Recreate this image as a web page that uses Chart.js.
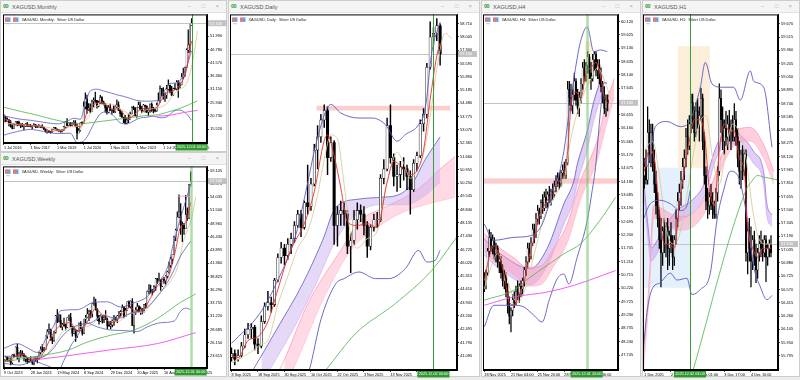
<!DOCTYPE html>
<html><head><meta charset="utf-8">
<script src="https://cdn.jsdelivr.net/npm/chart.js@4.4.1/dist/chart.umd.min.js"></script>
<style>
html,body{margin:0;padding:0}
body{width:800px;height:380px;background:#ececec;position:relative;overflow:hidden;font-family:'Liberation Sans',Arial,sans-serif}
.win{position:absolute;background:#fff;border:1px solid #cdcdcd;box-sizing:border-box}
.tb{position:absolute;left:0;top:0;right:0;height:11px;background:#f4f4f4;border-bottom:1px solid #e2e2e2}
.ic{position:absolute;left:2px;top:2px;font-size:5.5px;font-weight:bold;color:#2a9a2a;letter-spacing:-0.5px}
.tt{position:absolute;left:11px;top:2.6px;font-size:5.6px;color:#555;white-space:nowrap}
.bt{position:absolute;top:1.8px;font-size:6px;color:#b0b0b0}
canvas{position:absolute}
</style></head><body>
<div class="win" style="left:0;top:0;width:227px;height:152px"><div class="tb"><span class="ic">00</span><span class="tt">XAGUSD,Monthly</span><span class="bt" style="right:35px">–</span><span class="bt" style="right:21px">□</span><span class="bt" style="right:7px">×</span></div></div>
<div class="win" style="left:0;top:152px;width:227px;height:225px"><div class="tb"><span class="ic">00</span><span class="tt">XAGUSD,Weekly</span><span class="bt" style="right:35px">–</span><span class="bt" style="right:21px">□</span><span class="bt" style="right:7px">×</span></div></div>
<div class="win" style="left:228px;top:0;width:252px;height:377px"><div class="tb"><span class="ic">00</span><span class="tt">XAGUSD,Daily</span><span class="bt" style="right:35px">–</span><span class="bt" style="right:21px">□</span><span class="bt" style="right:7px">×</span></div></div>
<div class="win" style="left:481px;top:0;width:160px;height:377px"><div class="tb"><span class="ic">00</span><span class="tt">XAGUSD,H4</span><span class="bt" style="right:35px">–</span><span class="bt" style="right:21px">□</span><span class="bt" style="right:7px">×</span></div></div>
<div class="win" style="left:642px;top:0;width:158px;height:377px"><div class="tb"><span class="ic">00</span><span class="tt">XAGUSD,H1</span><span class="bt" style="right:35px">–</span><span class="bt" style="right:21px">□</span><span class="bt" style="right:7px">×</span></div></div>
<script>
// ================= MONTHLY (Jul 2016 .. Dec 2025) =================
const monthlyOpen=[18.6,20.1,18.7,19.2,17.7,16.5,
15.9,17.5,18.3,18.2,17.2,17.3,16.6,16.7,17.6,16.7,16.7,16.5,
16.9,17.2,16.5,16.3,16.3,16.4,16.3,15.5,14.5,14.6,14.3,14.2,
15.5,16.1,15.6,15.1,15.0,14.6,15.3,16.4,18.4,17.0,18.0,16.9,
17.9,18.0,16.7,14.0,15.0,18.0,17.8,24.4,27.4,23.3,23.8,22.6,
26.4,26.9,26.7,24.5,25.9,27.9,26.1,25.5,24.0,22.2,24.0,22.9,
23.3,22.4,24.3,25.1,23.0,21.7,20.3,20.3,17.8,19.0,19.2,21.5,
24.0,23.9,20.9,24.1,25.0,23.5,22.8,24.9,24.5,22.3,22.9,25.3,
23.8,23.0,22.7,25.0,26.6,31.4,29.1,28.6,28.9,31.2,32.7,30.3,
28.9,31.3,31.2,34.1,32.6,33.0,36.1,36.7,39.7,46.6,48.7,56.4];
const monthlyHigh=[21.1,20.6,20.0,19.3,18.9,17.3,
17.6,18.5,18.5,18.7,17.6,17.8,16.9,17.7,18.2,17.4,17.4,17.0,
17.7,17.4,16.8,17.3,16.7,17.3,16.3,15.6,14.9,14.9,14.7,15.6,
16.2,16.2,15.6,15.3,15.0,15.4,16.6,18.6,19.7,18.1,18.1,18.1,
18.9,18.9,17.5,15.7,18.0,18.4,26.2,29.8,28.9,25.6,25.5,26.9,
27.8,30.1,26.8,26.5,28.8,28.3,26.5,25.6,24.9,24.8,25.4,23.4,
24.7,25.0,27.0,26.2,23.1,22.5,20.3,20.9,19.9,21.2,22.2,24.3,
24.6,24.0,24.1,26.1,26.1,24.5,25.3,25.0,24.8,23.7,25.5,25.9,
24.1,23.5,25.8,29.8,32.5,31.5,31.8,29.9,32.7,34.9,32.9,32.3,
31.6,33.4,34.6,34.6,33.7,37.3,39.5,39.9,47.0,54.5,56.5,58.9];
const monthlyLow=[18.6,18.6,18.7,16.8,16.3,15.6,
15.8,17.2,16.8,17.0,16.1,16.4,15.2,16.6,16.6,16.5,16.4,15.6,
16.8,16.1,16.2,16.3,16.1,16.0,15.3,14.3,13.9,14.1,13.9,14.2,
15.3,15.6,14.8,14.6,14.3,14.3,14.9,16.2,16.9,17.0,16.6,16.7,
17.5,16.4,11.6,14.0,14.7,17.3,17.8,23.5,21.7,22.9,21.9,22.5,
24.2,26.0,23.8,24.2,25.6,25.4,25.0,22.2,21.4,21.9,22.9,21.4,
22.0,22.0,24.0,22.8,20.5,20.1,18.1,17.6,17.6,18.1,19.2,21.5,
23.2,20.7,19.9,24.1,23.2,22.1,22.5,22.2,22.0,20.7,22.1,22.5,
21.9,22.3,22.5,25.0,26.0,28.6,27.3,26.4,27.6,30.8,29.7,28.8,
28.8,31.0,30.9,28.0,31.6,32.9,35.3,36.2,39.6,45.5,45.6,56.2];
const monthlyClose=[20.1,18.7,19.2,17.7,16.5,15.9,
17.5,18.3,18.2,17.2,17.3,16.6,16.7,17.6,16.7,16.7,16.5,16.9,
17.2,16.5,16.3,16.3,16.4,16.3,15.5,14.5,14.6,14.3,14.2,15.5,
16.1,15.6,15.1,15.0,14.6,15.3,16.4,18.4,17.0,18.0,16.9,17.9,
18.0,16.7,14.0,15.0,18.0,17.8,24.4,27.4,23.3,23.8,22.6,26.4,
26.9,26.7,24.5,25.9,27.9,26.1,25.5,24.0,22.2,24.0,22.9,23.3,
22.4,24.3,25.1,23.0,21.7,20.3,20.3,17.8,19.0,19.2,21.5,24.0,
23.9,20.9,24.1,25.0,23.5,22.8,24.9,24.5,22.3,22.9,25.3,23.8,
23.0,22.7,25.0,26.6,31.4,29.1,28.6,28.9,31.2,32.7,30.3,28.9,
31.3,31.2,34.1,32.6,33.0,36.1,36.7,39.7,46.6,48.7,56.4,57.1];
const monthlyPriceTicks=[15.52,20.73,25.94,31.15,36.36,41.57,46.78,51.99,57.20];
const monthlyDateTicks=[0,16,32,48,64,80,96,112];
const monthlyDateLabels=['1 Jul 2016','1 Nov 2017','1 Mar 2019','1 Jul 2020','1 Nov 2021','1 Mar 2023','1 Jul 2024','1 Nov 2025'];
const monthlyBandUp=[[0,20.8],[8,19.6],[16,19.0],[24,18.2],[32,17.6],[38,18.6],[42,19.8],[46,19.4],[49,25.5],[52,30.5],[56,31.2],[60,30.5],[64,29.8],[68,29.0],[72,28.4],[76,27.6],[80,26.8],[86,26.5],[90,26.6],[94,27.4],[97,31.0],[100,33.5],[104,33.6],[107,35.5],[110,40.0],[113,46.3]];
const monthlyBandLow=[[0,13.2],[8,14.6],[16,15.4],[24,14.6],[32,13.8],[40,13.9],[44,10.3],[47,10.5],[50,12.5],[54,17.5],[58,21.5],[62,22.3],[66,20.8],[70,18.0],[74,17.6],[78,18.7],[82,19.9],[86,20.2],[90,20.6],[94,20.0],[98,20.3],[102,22.5],[106,23.0],[110,21.5],[113,19.0]];
const monthlyMaFast=[[0,19.6],[2,19.2],[4,18.4],[6,17.4],[8,17.5],[11,17.5],[14,17.0],[17,16.8],[20,16.9],[24,16.2],[27,15.0],[29,14.6],[32,15.2],[35,15.1],[38,16.3],[41,17.6],[44,16.8],[46,16.4],[48,18.2],[50,22.2],[53,24.7],[56,25.7],[59,26.2],[62,24.7],[65,23.3],[68,23.5],[71,22.5],[74,19.8],[77,20.3],[80,22.3],[83,23.3],[86,23.8],[89,23.7],[92,24.0],[95,27.2],[98,29.8],[101,30.4],[104,31.5],[107,33.9],[110,39.0],[112,47.0],[113,50.0]];
const monthlyMaSlow=[[0,18.2],[6,17.4],[12,17.2],[20,16.8],[28,16.0],[34,14.9],[40,16.5],[46,16.8],[50,19.5],[54,23.5],[58,25.2],[64,25.4],[70,23.6],[76,21.2],[80,20.3],[86,23.2],[92,23.8],[98,25.5],[102,29.0],[106,31.2],[110,33.5],[113,40.0],[115,47.0],[116.5,54.0]];
const monthlyMaLong=[[0,24.1],[10,22.5],[20,21.0],[30,19.3],[40,18.0],[46,17.7],[55,18.3],[64,19.0],[75,20.0],[85,20.8],[93,21.2],[100,22.5],[106,23.7],[111,25.0],[116.5,26.6]];
const monthlyMaTrend=[[92,20.6],[100,21.0],[108,22.0],[116.5,22.9]];

// ================= WEEKLY (8 Oct 2023 .. 30 Nov 2025) =================
const weeklyOpen=[21.9,22.9,23.4,22.9,23.2,22.3,23.8,23.6,25.3,23.3,24.1,24.2,23.8,
23.1,23.2,22.6,22.9,22.8,22.3,23.4,23.0,23.1,24.3,25.0,24.7,24.9,
27.4,28.3,28.7,27.2,26.6,28.2,31.3,30.3,30.4,29.2,29.6,29.5,29.1,
31.0,31.0,29.2,28.0,28.6,27.4,28.4,29.9,28.9,28.0,30.7,31.0,31.7,
32.1,31.7,33.7,33.7,32.5,31.3,30.3,31.3,30.6,31.0,30.6,29.5,29.4,
29.6,30.4,30.4,30.6,31.3,31.8,32.1,32.9,31.2,32.4,34.0,33.1,34.1,
29.5,32.1,32.5,33.1,32.0,32.6,32.3,33.5,33.0,36.0,36.3,36.0,36.0,
36.9,38.4,38.2,38.2,37.0,38.3,38.0,38.9,39.7,41.0,42.2,43.0,46.4,
47.7,50.2,51.2,48.7,48.6,48.0,50.7,50.0,56.4];
const weeklyHigh=[23.0,23.5,23.4,23.3,23.3,23.9,24.0,25.4,25.9,24.4,24.7,24.6,24.1,
23.6,23.3,23.1,23.5,22.9,23.4,23.4,23.5,24.4,25.4,25.8,25.3,27.5,
28.7,29.8,28.8,27.3,28.4,31.4,32.5,31.6,31.5,29.9,30.9,29.7,31.0,
31.5,31.8,29.3,29.2,28.8,28.5,30.0,30.2,29.0,30.7,31.4,32.7,32.4,
32.3,33.7,34.9,34.5,32.7,31.4,31.5,31.3,31.4,32.3,30.9,30.2,30.2,
30.7,31.4,31.1,31.4,32.2,32.3,33.4,33.1,32.8,34.0,34.2,34.2,34.6,
31.1,32.9,33.7,33.3,33.0,32.7,33.5,33.7,36.1,37.3,37.2,36.4,37.1,
38.5,38.5,39.5,38.3,38.4,38.7,39.0,39.9,41.6,42.5,43.0,46.6,47.9,
51.2,54.5,52.8,49.3,49.0,54.4,52.0,56.5,58.9];
const weeklyLow=[21.5,22.6,22.6,22.6,21.9,22.1,23.3,23.6,23.0,22.5,23.3,23.8,22.7,
22.5,22.2,22.4,22.6,22.0,21.9,22.6,22.3,23.0,24.0,24.4,24.6,24.9,
27.0,27.9,26.6,26.0,26.4,28.0,30.0,30.1,29.1,28.6,29.3,28.6,29.1,
30.4,29.2,27.4,27.9,26.4,27.2,28.4,28.8,27.6,27.9,30.0,30.9,30.4,
30.9,31.1,33.3,32.4,30.4,29.7,30.2,29.9,30.0,30.6,28.8,29.3,28.8,
29.2,29.5,30.3,30.0,31.0,31.3,32.1,30.9,31.2,32.4,32.9,32.8,29.5,
28.0,31.6,32.2,32.0,31.6,31.7,32.0,32.8,33.0,35.5,35.7,35.3,35.9,
36.2,37.5,38.0,36.2,36.9,37.5,37.4,38.6,39.5,40.6,41.3,43.0,45.7,
47.6,50.1,46.9,45.5,46.9,48.0,49.6,49.9,56.2];
const weeklyClose=[22.9,23.4,22.9,23.2,22.3,23.8,23.6,25.3,23.3,24.1,24.2,23.8,23.1,
23.2,22.6,22.9,22.8,22.3,23.4,23.0,23.1,24.3,25.0,24.7,24.9,27.4,
28.3,28.7,27.2,26.6,28.2,31.3,30.3,30.4,29.2,29.6,29.5,29.1,31.0,
31.0,29.2,28.0,28.6,27.4,28.4,29.9,28.9,28.0,30.7,31.0,31.7,32.1,
31.7,33.7,33.7,32.5,31.3,30.3,31.3,30.6,31.0,30.6,29.5,29.4,29.6,
30.4,30.4,30.6,31.3,31.8,32.1,32.9,31.2,32.4,34.0,33.1,34.1,29.5,
32.1,32.5,33.1,32.0,32.6,32.3,33.5,33.0,36.0,36.3,36.0,36.0,36.9,
38.4,38.2,38.2,37.0,38.3,38.0,38.9,39.7,41.0,42.2,43.0,46.4,47.7,
50.2,51.2,48.7,48.6,48.0,50.7,50.0,56.4,57.1];
const weeklyPriceTicks=[23.615,26.150,28.685,31.220,33.755,36.290,38.825,41.360,43.895,46.430,48.965,51.500,54.035,56.570,59.105];
const weeklyDateTicks=[0,16,32,48,64,80,96,112];
const weeklyDateLabels=['9 Oct 2023','28 Jan 2024','19 May 2024','8 Sep 2024','29 Dec 2024','20 Apr 2025','10 Aug 2025','30 Nov 2025'];
const weeklyBandUp=[[0,25.1],[8,26.0],[14,25.2],[20,24.3],[26,27.5],[30,29.5],[34,32.3],[44,32.5],[54,33.9],[62,34.0],[70,33.0],[78,33.8],[86,35.0],[92,37.5],[98,40.5],[102,45.5],[107,51.2],[112,56.5]];
const weeklyBandMid=[[0,23.6],[10,23.5],[20,23.2],[28,24.5],[36,27.8],[44,29.5],[52,30.0],[60,31.3],[68,30.8],[76,31.8],[84,32.5],[92,35.0],[100,38.8],[106,42.8],[112,45.6]];
const weeklyBandLow=[[0,22.2],[10,21.9],[18,22.6],[24,22.0],[28,21.5],[32,20.5],[36,22.8],[40,25.5],[44,27.5],[50,29.9],[56,29.2],[64,28.6],[72,28.5],[80,28.3],[86,29.2],[94,30.0],[102,30.3],[106,32.2],[109,32.8],[112,32.5]];
const weeklyMaFast=[[0,22.7],[4,22.9],[8,23.8],[12,23.9],[16,22.9],[20,22.9],[24,24.4],[28,27.1],[32,29.0],[36,29.8],[40,30.0],[44,28.3],[48,29.2],[51,30.7],[55,32.7],[58,31.8],[61,30.8],[64,30.0],[68,30.5],[72,32.0],[76,33.0],[78,32.3],[80,32.2],[84,32.7],[88,34.8],[90,36.0],[94,37.7],[98,38.4],[101,41.3],[103,44.0],[106,48.4],[109,49.2],[112,53.0]];
const weeklyMaSlow=[[0,22.5],[8,23.4],[16,23.3],[24,23.5],[30,25.8],[36,28.5],[44,29.2],[52,29.5],[60,31.6],[68,30.2],[76,31.8],[84,32.1],[92,35.2],[100,38.0],[104,40.5],[108,46.0],[111,48.6],[113,50.5],[115,54.1]];
const weeklyMaLong=[[0,22.5],[20,23.6],[38,24.7],[50,26.3],[64,27.6],[78,28.6],[92,30.8],[106,33.9],[115,35.5]];
const weeklyMaTrend=[[16,22.8],[34,23.5],[64,24.8],[92,26.0],[115,28.1]];
const weeklyLevel=[[104,54.2],[112,54.2]];

// ================= DAILY (8 Sep 2025 .. 4 Dec 2025) =================
const dailyOpen=[41.0,41.2,40.9,41.1,41.6,42.2,42.5,42.6,41.7,41.6,
42.9,43.7,43.9,43.8,45.1,46.3,46.8,46.4,47.0,47.3,
48.0,48.6,47.9,49.2,49.0,50.2,52.0,52.7,53.6,54.1,
51.6,52.4,48.0,48.6,48.8,48.6,46.9,47.2,48.3,48.8,
48.6,48.0,46.9,47.9,48.3,48.3,50.5,51.0,53.3,51.6,
50.6,50.7,51.1,51.0,50.6,49.9,51.3,51.7,53.4,53.9,
56.4,58.0,58.2,58.6];
const dailyHigh=[41.5,41.4,41.4,41.8,42.5,42.8,42.8,42.7,42.0,43.2,
43.9,44.5,44.2,45.2,46.5,47.1,47.0,47.3,47.6,48.2,
48.8,48.8,49.3,51.2,50.5,52.3,53.3,53.9,54.4,54.3,
52.7,52.5,49.0,49.3,49.2,48.8,47.6,48.8,49.2,49.1,
49.0,48.2,48.0,48.6,48.7,50.7,51.5,53.7,54.4,51.8,
51.2,51.4,51.6,51.2,50.9,51.5,51.9,53.6,54.2,56.6,
58.8,58.5,58.98,58.7];
const dailyLow=[40.8,40.6,40.8,41.0,41.5,42.0,42.0,41.4,41.2,41.5,
42.8,43.5,43.4,43.7,45.0,46.0,45.9,46.2,46.5,47.1,
47.9,47.4,47.8,48.6,48.8,50.1,51.0,52.4,53.2,50.7,
51.4,47.0,46.9,48.0,48.0,46.5,45.5,47.0,47.8,48.2,
47.5,46.3,46.7,47.7,47.9,48.2,50.2,50.9,51.3,50.1,
49.8,50.0,50.4,49.9,48.6,49.8,50.9,51.6,53.0,53.7,
56.3,57.6,57.8,56.5];
const dailyClose=[41.2,40.9,41.1,41.6,42.2,42.5,42.6,41.7,41.6,42.9,
43.7,43.9,43.8,45.1,46.3,46.8,46.4,47.0,47.3,48.0,
48.6,47.9,49.2,49.0,50.2,52.0,52.7,53.6,54.1,51.6,
52.4,48.0,48.6,48.8,48.6,46.9,47.2,48.3,48.8,48.6,
48.0,46.9,47.9,48.3,48.3,50.5,51.0,53.3,51.6,50.6,
50.7,51.1,51.0,50.6,49.9,51.3,51.7,53.4,53.9,56.4,
58.0,58.2,58.6,57.1];
const dailyPriceTicks=[41.085,41.790,42.495,43.200,43.905,44.610,45.315,46.020,46.725,47.430,48.135,48.840,49.545,50.250,50.955,51.660,52.365,53.070,53.775,54.480,55.185,55.890,56.595,57.300,58.005,58.710];
const dailyDateTicks=[0,8,16,24,32,40,48,56];
const dailyDateLabels=['8 Sep 2025','18 Sep 2025','30 Sep 2025','10 Oct 2025','22 Oct 2025','3 Nov 2025','13 Nov 2025','25 Nov 2025'];
const dailyBandUp=[[0,41.74],[8.5,43.32],[13.5,44.91],[19.5,47.55],[22.5,49.84],[25.5,52.31],[28.5,54.07],[30,54.42],[33,53.97],[38.5,53.7],[42.5,53.7],[46.5,53.35],[50,52.47],[52.5,52.82],[56.5,53.35],[58.5,54.2],[60.5,57.2],[63,58.79]];
const dailyBandLow=[[0,38.8],[10,38.5],[20,38.8],[23.5,40.33],[27,43.0],[31.5,44.91],[34,45.18],[38.5,45.53],[43.5,45.18],[47.5,45.18],[52.5,45.71],[56.5,46.68],[59,46.06],[61.5,46.15],[63,46.68]];
const dailyPurpleTop=[[4,39.6],[6.5,40.33],[13.5,42.44],[21.5,44.91],[27.5,47.2],[31.5,48.96],[38.5,49.4],[45.5,49.5],[50,49.6],[54.5,50.2],[58.5,51.5],[63,52.7]];
const dailyPurpleBot=[[9,39.6],[11.5,40.33],[18.5,42.44],[25.5,44.9],[31.5,47.2],[36.5,48.4],[44.5,49.1],[52.5,49.1],[58.5,49.6],[63,50.3]];
const dailyPinkTop=[[12,39.6],[14.5,40.33],[23.5,44.0],[33.5,46.82],[38.5,48.2],[45.5,48.9],[53.5,49.6],[58.5,50.24],[63,51.0],[67.5,51.65]];
const dailyPinkBot=[[16,39.6],[18.5,40.33],[27.5,44.0],[36.5,46.8],[42.5,47.7],[50.5,48.6],[58.5,49.1],[67.5,49.5]];
const dailyMaFast=[[0,41.1],[2,41.0],[5,41.9],[8,42.1],[11,42.9],[14,44.6],[17,46.3],[19,47.1],[22,48.1],[25,49.8],[28,52.5],[29,52.8],[31,51.7],[33,50.0],[35,48.2],[38,48.0],[41,48.1],[44,47.9],[47,50.3],[49,51.4],[52,51.0],[54,50.7],[56,50.9],[58,52.0],[60,54.7],[62,57.0],[63,57.7]];
const dailyMaSlow=[[0,40.7],[6,41.3],[9,41.7],[11,41.9],[14,43.8],[17,45.3],[20,46.8],[23,47.7],[26,49.6],[28,51.5],[30,52.8],[32,52.6],[34,50.2],[36,47.5],[38,46.8],[41,47.3],[44,47.7],[46,49.5],[48,51.0],[50,51.9],[52,51.3],[54,50.5],[56,50.9],[58,51.8],[60,53.8],[62,56.3],[64.5,58.2],[66.5,57.9]];
const dailyMaLong=[[26,39.8],[28.5,40.33],[37.5,42.27],[49.5,43.86],[60.5,45.62],[68,47.38]];

// ================= H4 (18 Nov 16:00 .. 4 Dec) =================
const h4Open=[50.5,50.3,50.8,51.6,52.1,51.8,52.0,51.5,51.7,51.2,
51.3,50.8,50.5,50.7,50.1,49.6,49.2,49.4,49.8,49.7,
50.1,50.0,50.3,50.2,50.5,50.9,51.2,51.7,51.4,51.9,
52.4,52.2,52.8,53.1,52.9,53.4,53.2,53.6,53.4,53.7,
53.5,53.8,53.7,54.0,54.2,54.3,54.1,54.5,54.6,54.4,
54.9,57.6,57.3,57.0,57.4,57.9,57.2,56.9,57.3,57.8,
58.4,58.1,58.5,58.8,58.2,58.0,58.7,58.9,58.3,58.5,
58.0,57.7,57.3,56.9,57.2];
const h4High=[50.8,50.9,51.7,52.4,52.3,52.2,52.1,51.9,51.8,51.5,
51.4,51.1,50.9,50.8,50.4,49.9,49.5,50.0,50.1,50.3,
50.5,50.4,50.5,50.6,51.0,51.4,51.9,51.9,52.1,52.6,
52.6,53.0,53.3,53.2,53.5,53.7,53.8,53.9,53.8,54.0,
53.9,54.1,54.2,54.4,54.5,54.5,54.6,54.8,54.9,55.0,
57.9,57.9,57.8,57.6,58.2,58.0,57.6,57.5,58.0,58.6,
58.7,58.6,59.0,58.9,58.6,58.9,59.0,59.0,58.7,58.7,
58.4,57.9,57.7,57.4,57.4];
const h4Low=[50.1,50.2,50.7,51.4,51.6,51.5,51.3,51.2,51.0,50.8,
50.6,50.3,50.2,49.9,49.3,48.9,48.6,49.2,49.5,49.6,
49.8,49.7,49.9,50.0,50.3,50.7,51.0,51.2,51.3,51.8,
51.9,52.1,52.6,52.6,52.8,53.0,53.1,53.2,53.2,53.4,
53.3,53.5,53.6,53.8,54.0,53.9,54.0,54.3,54.3,54.3,
54.8,57.0,56.8,56.7,57.2,57.0,56.7,56.6,57.1,57.6,
57.9,57.9,58.2,58.0,57.6,57.9,58.3,58.1,58.0,57.8,
57.5,57.1,56.7,56.6,56.8];
const h4Close=[50.3,50.8,51.6,52.1,51.8,52.0,51.5,51.7,51.2,51.3,
50.8,50.5,50.7,50.1,49.6,49.2,49.4,49.8,49.7,50.1,
50.0,50.3,50.2,50.5,50.9,51.2,51.7,51.4,51.9,52.4,
52.2,52.8,53.1,52.9,53.4,53.2,53.6,53.4,53.7,53.5,
53.8,53.7,54.0,54.2,54.3,54.1,54.5,54.6,54.4,54.9,
57.6,57.3,57.0,57.4,57.9,57.2,56.9,57.3,57.8,58.4,
58.1,58.5,58.8,58.2,58.0,58.7,58.9,58.3,58.5,58.0,
57.7,57.3,56.9,57.2,57.1];
const h4PriceTicks=[47.745,48.240,48.735,49.230,49.725,50.220,50.715,51.210,51.705,52.200,52.695,53.190,53.685,54.180,54.675,55.170,55.665,56.160,56.655,57.150,57.645,58.140,58.635,59.130,59.625,60.120];
const h4DateTicks=[0,16,32,48,64];
const h4DateLabels=['18 Nov 2025','21 Nov 04:00','25 Nov 20:00','28 Nov 12:00','2 Dec 16:00'];
const h4BandUp=[[0,52.6],[5.7,52.0],[17.7,52.11],[27.7,52.17],[33.7,52.48],[37.7,53.1],[40.7,53.84],[43.7,54.2],[47.7,55.3],[51.7,57.15],[55.7,58.75],[57.7,59.37],[61.7,59.92],[65.7,59.0],[69.7,59.06],[73.7,59.0]];
const h4BandLow=[[0,48.79],[5.7,49.59],[17.7,49.59],[23.7,49.53],[29.7,49.22],[34.7,48.97],[39,49.8],[43.7,50.57],[47.7,50.75],[50.7,50.38],[55.7,51.37],[61.7,52.72],[64.7,53.84],[66.7,54.7],[69.7,56.8],[71.7,57.84],[73.7,57.84]];
const h4PinkTop=[[0,52.25],[9.7,51.7],[17.7,51.35],[25.7,51.0],[33.7,51.05],[41.7,51.7],[49.7,52.6],[57.7,54.2],[67.7,55.7],[73.7,57.2],[78,58.0]];
const h4PinkBot=[[0,51.6],[9.7,51.05],[17.7,50.7],[25.7,50.3],[33.7,50.35],[41.7,51.05],[49.7,51.9],[57.7,53.5],[67.7,54.95],[73.7,56.4],[78,57.3]];
const h4PurpleTop=[[0,52.05],[9.7,51.5],[27.7,50.95],[37.7,51.7],[47.7,53.35],[53.7,54.2],[55.7,54.8],[61.7,56.05],[65.7,57.15],[70.7,58.1]];
const h4PurpleBot=[[0,51.45],[9.7,50.9],[27.7,50.35],[37.7,51.05],[47.7,52.6],[53.7,53.5],[55.7,54.1],[61.7,55.35],[65.7,56.45],[70.7,57.45]];
const h4MaFast=[[0,50.5],[3,51.4],[6,51.8],[9,51.4],[12,50.7],[15,49.7],[18,49.6],[21,50.0],[24,50.5],[27,51.4],[30,52.1],[33,52.9],[36,53.3],[39,53.6],[42,53.8],[45,54.2],[48,54.5],[50,55.3],[52,57.0],[55,57.5],[58,57.3],[61,58.2],[64,58.4],[67,58.6],[70,58.0],[72,57.3],[74,57.1]];
const h4MaSlow=[[0,50.2],[4,51.0],[8,51.5],[12,51.0],[16,50.1],[20,49.7],[24,50.1],[28,51.0],[32,52.0],[36,52.9],[40,53.4],[44,53.8],[48,54.3],[52,55.8],[56,56.8],[60,57.5],[64,58.0],[68,58.4],[71,58.1],[74,57.6],[76,57.2]];
const h4MaLong=[[0,49.78],[17.7,50.15],[27.7,50.64],[37.7,51.07],[47.7,51.5],[57.7,51.87],[67.7,52.6],[78.8,53.59]];
const h4MaTrend=[[0,49.59],[17.7,49.9],[37.7,50.08],[53.7,50.33],[78.8,50.88]];

// ================= H1 (1 Dec .. 4 Dec) =================
const h1Open=[57.90,58.00,57.85,58.40,58.15,58.40,58.05,57.80,57.55,57.40,
57.15,57.00,57.25,57.10,57.30,57.05,57.20,57.10,56.95,57.15,
57.40,57.60,57.70,57.85,58.00,58.10,58.35,58.25,58.50,58.75,
58.55,58.40,58.65,58.50,58.60,58.80,58.30,57.90,57.60,57.55,
57.65,57.55,57.50,57.45,57.70,57.95,58.80,58.55,58.30,58.45,
58.35,58.50,58.40,58.45,58.35,58.55,58.35,58.10,57.95,58.15,
57.95,58.15,57.00,57.25,57.05,56.90,57.15,56.95,56.80,57.00,
57.10,57.05,57.00,57.15,56.95,57.05,57.10];
const h1High=[58.10,58.20,58.70,58.55,58.50,58.50,58.20,57.95,57.70,57.50,
57.40,57.30,57.40,57.35,57.40,57.25,57.35,57.20,57.20,57.50,
57.70,57.80,57.95,58.10,58.20,58.45,58.55,58.60,58.85,58.85,
58.70,58.75,58.80,58.70,58.92,58.85,58.40,58.00,57.75,57.70,
57.80,57.70,57.60,57.75,58.00,58.97,58.90,58.70,58.55,58.65,
58.60,58.66,58.55,58.60,58.74,58.65,58.45,58.30,58.20,58.25,
58.20,58.20,57.35,57.40,57.30,57.20,57.25,57.10,57.05,57.20,
57.25,57.15,57.20,57.20,57.10,57.15,57.20];
const h1Low=[57.75,57.80,57.80,58.05,58.00,57.95,57.70,57.45,57.30,57.05,
56.60,56.85,57.00,56.95,56.80,56.85,57.00,56.80,56.85,57.10,
57.30,57.50,57.55,57.75,57.85,58.00,58.15,58.20,58.40,58.45,
58.30,58.35,58.45,58.30,58.55,58.20,57.80,57.50,57.40,57.45,
57.50,57.40,57.40,57.40,57.60,57.90,58.40,58.20,58.15,58.25,
58.20,58.30,58.20,58.30,58.30,58.25,58.00,57.80,57.75,57.85,
57.90,56.90,56.75,56.90,56.60,56.80,56.85,56.65,56.70,56.90,
56.95,56.90,56.95,56.66,56.85,56.95,56.95];
const h1Close=[58.00,57.85,58.40,58.15,58.40,58.05,57.80,57.55,57.40,57.15,
57.00,57.25,57.10,57.30,57.05,57.20,57.10,56.95,57.15,57.40,
57.60,57.70,57.85,58.00,58.10,58.35,58.25,58.50,58.75,58.55,
58.40,58.65,58.50,58.60,58.80,58.30,57.90,57.60,57.55,57.65,
57.55,57.50,57.45,57.70,57.95,58.80,58.55,58.30,58.45,58.35,
58.50,58.40,58.45,58.35,58.55,58.35,58.10,57.95,58.15,57.95,
58.15,57.00,57.25,57.05,56.90,57.15,56.95,56.80,57.00,57.10,
57.05,57.00,57.15,56.95,57.05,57.10,57.00];
const h1PriceTicks=[55.795,55.950,56.105,56.260,56.415,56.570,56.725,56.880,57.035,57.190,57.345,57.500,57.655,57.810,57.965,58.120,58.275,58.430,58.585,58.740,58.895,59.050,59.205,59.360,59.515,59.670];
const h1DateTicks=[0,16,32,48,64];
const h1DateLabels=['1 Dec 2025','2 Dec 09:00','3 Dec 01:00','3 Dec 17:00','4 Dec 10:00'];
const h1BandUp=[[-0.8,58.14],[1.6,58.0],[6.6,58.47],[13.6,58.53],[21.6,58.47],[27.6,58.55],[33.6,58.93],[36.6,59.22],[40.6,58.97],[46.6,58.93],[53.6,58.93],[57.6,58.78],[63.6,59.12],[65.6,59.0],[71.6,58.93],[76.6,58.23]];
const h1BandMid=[[-0.8,57.38],[3.6,57.57],[9.6,57.61],[15.6,57.57],[21.6,57.49],[25.6,57.55],[27.6,57.73]];
const h1BandLow=[[-0.8,55.83],[1.6,56.3],[4.6,56.57],[9.6,56.65],[15.6,56.76],[19.6,56.68],[25.6,56.7],[28.6,56.51],[33.6,56.57],[39.6,56.76],[43.6,57.38],[47.6,57.73],[51.6,57.95],[56,57.9],[60,57.6],[63,57.2],[65.6,56.84],[69.6,56.6],[73.6,56.45],[76.6,56.5]];
const h1PurpleTop=[[-0.8,57.95],[2,57.35],[4,57.05],[8,57.15],[14,57.35],[20,57.5],[28,57.6],[36,57.8],[43.6,58.26],[51.6,58.41],[57.6,58.37],[65.6,58.18],[71.6,57.94],[73.6,57.56],[76.6,57.44]];
const h1PurpleBot=[[-0.8,57.8],[2,57.2],[4,56.9],[8,57.0],[14,57.2],[20,57.35],[28,57.45],[36,57.65],[43.6,58.12],[51.6,58.27],[57.6,58.23],[65.6,58.04],[71.6,57.8],[73.6,57.42],[76.6,57.3]];
const h1PinkTop=[[-0.8,55.7],[3,56.7],[5.6,57.55],[10,57.52],[20,57.42],[30,57.47],[40.6,57.8],[47,58.17],[54.6,58.42],[63.6,58.46],[71.6,58.26],[77.6,57.95]];
const h1PinkBot=[[-0.8,55.55],[3,56.5],[5.6,57.4],[10,57.36],[20,57.26],[30,57.31],[40.6,57.64],[47,58.01],[54.6,58.26],[63.6,58.3],[71.6,58.1],[77.6,57.8]];
const h1MaFast=[[0,57.95],[3,58.2],[6,58.1],[9,57.5],[12,57.1],[15,57.1],[18,57.05],[21,57.55],[24,57.95],[27,58.3],[30,58.55],[33,58.55],[36,58.4],[39,57.75],[42,57.55],[45,58.2],[48,58.5],[51,58.42],[54,58.42],[57,58.1],[60,57.95],[62,57.3],[65,57.05],[68,56.95],[71,57.05],[74,57.05],[76,57.05]];
const h1MaSlow=[[0,58.2],[5,58.3],[9,57.9],[13,57.3],[17,57.1],[21,57.2],[25,57.6],[29,58.1],[33,58.5],[37,58.6],[41,58.1],[45,57.8],[49,58.2],[53,58.5],[57,58.4],[61,58.1],[65,57.5],[69,57.15],[73,57.1],[77,57.1]];
const h1MaLong=[[27.4,55.5],[61,57.73],[64,57.82],[68,57.9],[72,57.88],[80,57.85]];

const currentPrice=57.10;

// ================= rendering =================
const FF="'Liberation Sans', Arial, sans-serif";
const BLUE='#5a5abf', RED='#e8322c', BEIGE='#d8cc9c', GREEN='#4db24d', MAG='#f04cf0';
function pts(a){return a.map(p=>({x:p[0],y:p[1]}));}

function makePanel(P){
  const AX=21, AY=8, PAD=2, f=P.frame;
  const W=(f.r-f.l)+PAD+AX, H=(f.b-f.t)+PAD+AY;
  const cv=document.createElement('canvas');
  cv.width=W; cv.height=H;
  cv.style.left=(f.l-PAD)+'px'; cv.style.top=(f.t-PAD)+'px';
  cv.style.width=W+'px'; cv.style.height=H+'px';
  document.body.appendChild(cv);
  const ds=[];
  (P.ribbons||[]).forEach(r=>{
    ds.push({type:'line',data:pts(r.top),borderColor:r.et,borderWidth:r.wt||0.8,pointRadius:0,fill:false,order:9,cubicInterpolationMode:'monotone'});
    ds.push({type:'line',data:pts(r.bot),borderColor:r.eb,borderWidth:0.6,pointRadius:0,fill:'-1',backgroundColor:r.fill,order:9,cubicInterpolationMode:'monotone'});
  });
  const wick=[],bull=[],bear=[];
  for(let i=0;i<P.o.length;i++){
    wick.push({x:i,y:[P.l[i],P.h[i]]});
    (P.c[i]>=P.o[i]?bull:bear).push({x:i,y:[P.o[i],P.c[i]]});
  }
  ds.push({type:'bar',data:wick,backgroundColor:'#000',barThickness:P.wickW,grouped:false,order:8});
  ds.push({type:'bar',data:bull,backgroundColor:'#fff',borderColor:'#000',borderWidth:P.bodyB,borderSkipped:false,barThickness:P.bodyW,grouped:false,order:7,minBarLength:0.7});
  ds.push({type:'bar',data:bear,backgroundColor:'#000',barThickness:P.bodyW,grouped:false,order:7,minBarLength:0.7});
  P.lines.forEach(L=>ds.push({type:'line',data:pts(L.d),borderColor:L.c,borderWidth:L.w||0.9,pointRadius:0,fill:false,order:L.o||2,cubicInterpolationMode:'monotone'}));

  const deco={id:'deco',
    beforeDatasetsDraw(ch){
      const {ctx,chartArea:a,scales:{x,y}}=ch;
      ctx.save(); ctx.beginPath(); ctx.rect(a.left,a.top,a.width,a.height); ctx.clip();
      (P.zones||[]).forEach(z=>{
        const x0=z.x0==null?a.left:x.getPixelForValue(z.x0), x1=z.x1==null?a.right:x.getPixelForValue(z.x1);
        const y0=y.getPixelForValue(z.y1), y1=y.getPixelForValue(z.y0);
        ctx.fillStyle=z.c; ctx.fillRect(x0,y0,x1-x0,y1-y0);
      });
      const cy=Math.round(y.getPixelForValue(currentPrice))+0.5;
      ctx.strokeStyle='#c4c4c4'; ctx.lineWidth=1; ctx.beginPath(); ctx.moveTo(a.left,cy); ctx.lineTo(a.right,cy); ctx.stroke();
      ctx.restore();
    },
    afterDatasetsDraw(ch){
      const {ctx,chartArea:a,scales:{x}}=ch, g=P.green;
      const gx=Math.round(x.getPixelForValue(g.x))+0.5;
      ctx.save(); ctx.strokeStyle=g.c; ctx.lineWidth=g.w; ctx.beginPath(); ctx.moveTo(gx,a.top); ctx.lineTo(gx,a.bottom); ctx.stroke(); ctx.restore();
    },
    afterDraw(ch){
      const {ctx,chartArea:a,scales:{x,y}}=ch, g=P.green;
      ctx.save();
      ctx.strokeStyle='#000'; ctx.lineWidth=1; ctx.strokeRect(a.left+0.5,a.top+0.5,a.width-1,a.height-1);
      // legend
      const lx=a.left+2, ly=a.top+3;
      ctx.fillStyle='#e87878'; ctx.fillRect(lx,ly,3,4.5); ctx.fillStyle='#7a9ae0'; ctx.fillRect(lx+2.5,ly,3,4.5);
      ctx.fillStyle='#e87878'; ctx.fillRect(lx+8,ly,3,4.5); ctx.fillStyle='#7a9ae0'; ctx.fillRect(lx+10.5,ly,3,4.5);
      ctx.fillStyle='#8fd08f'; ctx.fillRect(lx+1,ly+6,4,0.8);
      ctx.fillStyle='#222'; ctx.font='3.9px '+FF; ctx.textBaseline='middle'; ctx.textAlign='left';
      ctx.fillText(P.legend,lx+16.5,ly+2.4);
      // current price box
      const cy=y.getPixelForValue(currentPrice);
      ctx.fillStyle='#c2c2c2'; ctx.fillRect(a.right+1,cy-3,19,6);
      ctx.fillStyle='#fff'; ctx.font='4px '+FF; ctx.fillText(currentPrice.toFixed(3),a.right+3,cy+0.2);
      // green time box
      const gx=x.getPixelForValue(g.x);
      ctx.fillStyle='#2f9a2f'; ctx.fillRect(gx-16,a.bottom+1,32,6.5);
      ctx.fillStyle='#fff'; ctx.font='3.8px '+FF; ctx.textAlign='center'; ctx.fillText(g.label,gx,a.bottom+4.4);
      ctx.restore();
    }
  };

  new Chart(cv,{type:'bar',data:{datasets:ds},plugins:[deco],
    options:{responsive:false,animation:false,events:[],devicePixelRatio:1,
      layout:{padding:{left:PAD,top:PAD,right:0,bottom:0}},
      plugins:{legend:{display:false},tooltip:{enabled:false}},
      scales:{
        x:{type:'linear',min:P.xMin,max:P.xMax,offset:false,bounds:'data',
          grid:{offset:false,drawOnChartArea:false,tickLength:2,color:'#000',lineWidth:0.7},
          border:{display:true,color:'#000',width:1},
          ticks:{autoSkip:false,maxRotation:0,minRotation:0,align:'start',padding:0.5,color:'#000',font:{size:3.8,family:FF},callback:(v,i)=>P.xLabels[i]},
          afterBuildTicks:s=>{s.ticks=P.xTicks.map(v=>({value:v}));},
          afterFit:s=>{s.height=AY;}},
        y:{type:'linear',position:'right',min:P.yMin,max:P.yMax,bounds:'data',
          grid:{drawOnChartArea:false,tickLength:2,color:'#000',lineWidth:0.7},
          border:{display:true,color:'#000',width:1},
          ticks:{autoSkip:false,padding:1,color:'#000',font:{size:4,family:FF},callback:v=>v.toFixed(3)},
          afterBuildTicks:s=>{s.ticks=P.yTicks.map(v=>({value:v}));},
          afterFit:s=>{s.width=AX;}}
      }}});
}

const pinkZone='rgba(250,190,190,0.75)';
const panels=[
 {frame:{l:3,t:13,r:207,b:143},xMin:-0.6,xMax:122.3,yMin:10.09,yMax:60.55,
  yTicks:monthlyPriceTicks,xTicks:monthlyDateTicks,xLabels:monthlyDateLabels,
  o:monthlyOpen,h:monthlyHigh,l:monthlyLow,c:monthlyClose,bodyW:1.2,wickW:0.6,bodyB:0.4,
  lines:[{d:monthlyMaLong,c:GREEN,w:0.8},{d:monthlyMaTrend,c:MAG,w:0.9},{d:monthlyBandUp,c:BLUE,w:0.8},{d:monthlyBandLow,c:BLUE,w:0.8},{d:monthlyMaSlow,c:BEIGE,w:0.9},{d:monthlyMaFast,c:RED,w:0.9,o:1}],
  green:{x:113,label:'2025.12.01 00:00',c:'#3a9a3a',w:1},legend:'XAGUSD, Monthly:  Silver US Dollar'},
 {frame:{l:3,t:165,r:207,b:368},xMin:-0.6,xMax:121.8,yMin:21.33,yMax:59.92,
  yTicks:weeklyPriceTicks,xTicks:weeklyDateTicks,xLabels:weeklyDateLabels,
  o:weeklyOpen,h:weeklyHigh,l:weeklyLow,c:weeklyClose,bodyW:1.2,wickW:0.6,bodyB:0.4,
  lines:[{d:weeklyMaLong,c:GREEN,w:0.8},{d:weeklyMaTrend,c:MAG,w:0.9},{d:weeklyBandUp,c:BLUE,w:0.8},{d:weeklyBandMid,c:BLUE,w:0.8},{d:weeklyBandLow,c:BLUE,w:0.8},{d:weeklyMaSlow,c:BEIGE,w:0.9},{d:weeklyLevel,c:'#f4a0a0',w:0.9},{d:weeklyMaFast,c:RED,w:0.9,o:1}],
  green:{x:112,label:'2025.12.01 00:00',c:'rgba(120,200,110,0.6)',w:2.5},legend:'XAGUSD, Weekly:  Silver US Dollar'},
 {frame:{l:230,t:13,r:457,b:370},xMin:-0.45,xMax:68.1,yMin:40.33,yMax:59.2,
  yTicks:dailyPriceTicks,xTicks:dailyDateTicks,xLabels:dailyDateLabels,
  o:dailyOpen,h:dailyHigh,l:dailyLow,c:dailyClose,bodyW:2.4,wickW:0.8,bodyB:0.6,
  ribbons:[{top:dailyPurpleTop,bot:dailyPurpleBot,et:BLUE,eb:'#c9b0ee',fill:'rgba(200,170,240,0.45)'},{top:dailyPinkTop,bot:dailyPinkBot,et:'#ffa0bc',eb:'#ffb8cc',fill:'rgba(255,170,195,0.45)'}],
  zones:[{x0:25.7,x1:66,y0:54.1,y1:54.35,c:pinkZone}],
  lines:[{d:dailyMaLong,c:GREEN,w:0.8},{d:dailyBandUp,c:BLUE,w:0.9},{d:dailyBandLow,c:BLUE,w:0.9},{d:dailyMaSlow,c:BEIGE,w:0.9},{d:dailyMaFast,c:RED,w:0.9,o:1}],
  green:{x:61,label:'2025.12.02 00:00',c:'#3a9a3a',w:1},legend:'XAGUSD, Daily:  Silver US Dollar'},
 {frame:{l:483,t:13,r:618,b:370},xMin:-0.78,xMax:80.2,yMin:47.19,yMax:60.38,
  yTicks:h4PriceTicks,xTicks:h4DateTicks,xLabels:h4DateLabels,
  o:h4Open,h:h4High,l:h4Low,c:h4Close,bodyW:1.2,wickW:0.6,bodyB:0.4,
  ribbons:[{top:h4PinkTop,bot:h4PinkBot,et:'#ff9cb8',eb:'#ffb0c8',fill:'rgba(255,160,190,0.5)'},{top:h4PurpleTop,bot:h4PurpleBot,et:BLUE,eb:'#c0a0ee',fill:'rgba(195,160,240,0.5)'}],
  zones:[{x0:null,x1:null,y0:54.1,y1:54.3,c:pinkZone},{x0:60.4,x1:64.4,y0:57.78,y1:59.38,c:'rgba(250,232,205,0.8)'}],
  lines:[{d:h4MaLong,c:GREEN,w:0.8},{d:h4MaTrend,c:MAG,w:0.9},{d:h4BandUp,c:BLUE,w:0.9},{d:h4BandLow,c:BLUE,w:0.9},{d:h4MaSlow,c:BEIGE,w:0.9},{d:h4MaFast,c:RED,w:0.9,o:1}],
  green:{x:61.4,label:'2025.12.01 20:00',c:'rgba(120,200,110,0.6)',w:2.5},legend:'XAGUSD, H4:  Silver US Dollar'},
 {frame:{l:643,t:13,r:778,b:370},xMin:-0.78,xMax:80.2,yMin:55.63,yMax:59.78,
  yTicks:h1PriceTicks,xTicks:h1DateTicks,xLabels:h1DateLabels,
  o:h1Open,h:h1High,l:h1Low,c:h1Close,bodyW:1.2,wickW:0.6,bodyB:0.4,
  ribbons:[{top:h1PinkTop,bot:h1PinkBot,et:'#ff9cb8',eb:'#ffb0c8',fill:'rgba(255,160,190,0.5)'},{top:h1PurpleTop,bot:h1PurpleBot,et:'#a070e0',eb:'#c0a0ee',fill:'rgba(195,160,240,0.5)'}],
  zones:[{x0:-0.8,x1:27.4,y0:56.59,y1:57.99,c:'rgba(225,238,252,0.9)'},{x0:20.2,x1:39.4,y0:57.99,y1:59.41,c:'rgba(250,234,210,0.8)'}],
  lines:[{d:h1MaLong,c:GREEN,w:0.8},{d:h1BandUp,c:BLUE,w:0.9},{d:h1BandMid,c:BLUE,w:0.9},{d:h1BandLow,c:BLUE,w:0.9},{d:h1MaSlow,c:BEIGE,w:0.9},{d:h1MaFast,c:RED,w:0.9,o:1}],
  green:{x:27.4,label:'2025.12.02 03:00',c:'#3a9a3a',w:1},legend:'XAGUSD, H1:  Silver US Dollar'}
];
panels.forEach(makePanel);
</script>
</body></html>
